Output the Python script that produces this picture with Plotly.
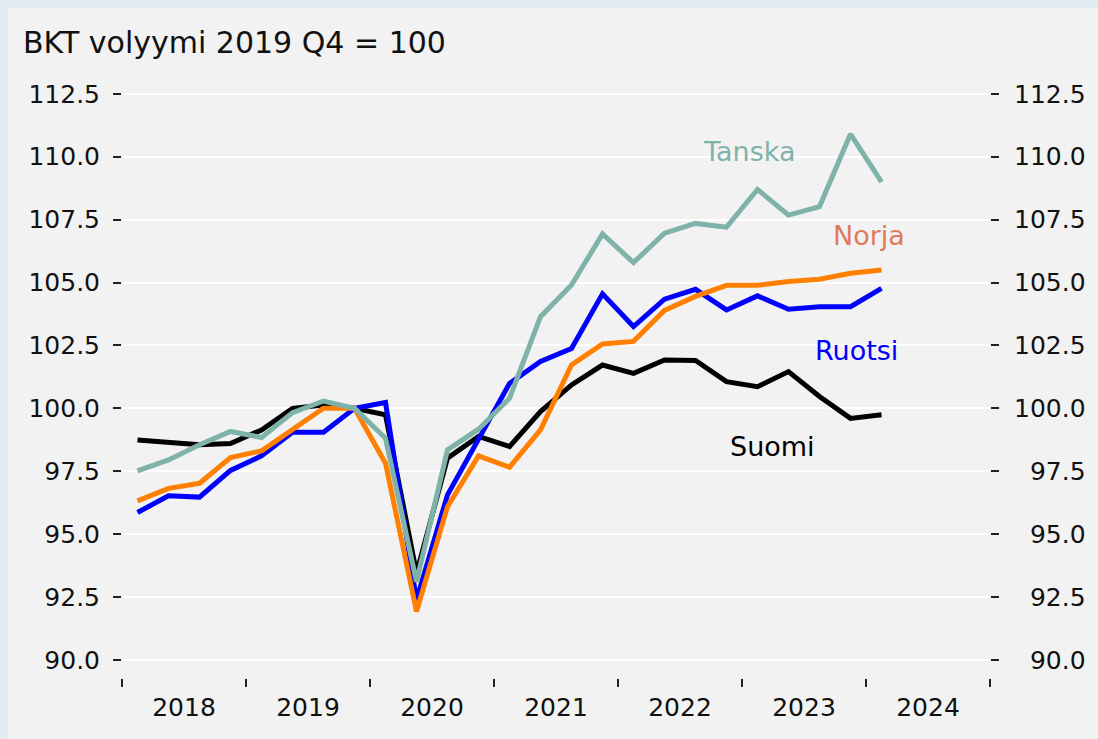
import plotly.graph_objects as go

# Quarters 2018Q1 .. 2024Q1
quarters = [f"{y}Q{q}" for y in range(2018, 2025) for q in range(1, 5)][:25]
suomi = [98.74, 98.65, 98.55, 98.6, 99.14, 100.0, 100.13, 100.0, 99.74, 93.45,
         98.02, 98.88, 98.48, 99.87, 100.93, 101.72, 101.39, 101.92, 101.9,
         101.06, 100.86, 101.46, 100.47, 99.6, 99.74]
tanska = [97.51, 97.95, 98.55, 99.08, 98.84, 99.83, 100.29, 100.0, 98.81, 93.11,
          98.35, 99.17, 100.4, 103.64, 104.9, 106.93, 105.79, 106.96, 107.35,
          107.2, 108.7, 107.68, 108.02, 110.9, 109.0]
norja = [96.32, 96.82, 97.02, 98.04, 98.31, 99.14, 100.0, 100.0, 97.82, 91.92,
         96.09, 98.11, 97.66, 99.14, 101.72, 102.56, 102.66, 103.89, 104.45,
         104.89, 104.89, 105.04, 105.13, 105.37, 105.5]
ruotsi = [95.86, 96.52, 96.47, 97.53, 98.11, 99.05, 99.05, 100.0, 100.23, 92.38,
          96.56, 98.74, 100.99, 101.86, 102.38, 104.55, 103.25, 104.34, 104.73,
          103.91, 104.47, 103.94, 104.04, 104.04, 104.77]

years = list(range(2018, 2025))
year_labels = [str(y) for y in years]
y_ticks = [90.0, 92.5, 95.0, 97.5, 100.0, 102.5, 105.0, 107.5, 110.0, 112.5]
left_labels = [f"{v:.1f}" for v in y_ticks]
right_labels = [("\u2007" if v < 100 else "") + f"{v:.1f}" for v in y_ticks]

title_text = "BKT volyymi 2019 Q4 = 100"

def qpos(label):
    y = int(label[:4]); q = int(label[-1])
    return y + (q - 0.5) / 4

x = [qpos(q) for q in quarters]

FONT = "DejaVu Sans"
TXT = "#111111"
series = [
    ("Suomi", suomi, "#000000"),
    ("Ruotsi", ruotsi, "#0000ff"),
    ("Norja", norja, "#ff8000"),
    ("Tanska", tanska, "#7fb3aa"),
]

fig = go.Figure()
for name, vals, col in series:
    fig.add_trace(go.Scatter(x=x, y=vals, mode="lines", name=name,
                             line=dict(color=col, width=5), hoverinfo="skip"))
# mirror axis reference trace (invisible)
fig.add_trace(go.Scatter(x=x, y=suomi, yaxis="y2", mode="lines",
                         line=dict(width=0), showlegend=False, hoverinfo="skip",
                         opacity=0))

yr = [89.28, 113.05]
fig.update_layout(
    width=1098, height=739,
    margin=dict(l=122, r=103, t=80, b=61),
    paper_bgcolor="#dfeaf1",
    plot_bgcolor="rgba(0,0,0,0)",
    showlegend=False,
    font=dict(family=FONT, color=TXT),
    xaxis=dict(range=[2018, 2025], tickmode="array",
               tickvals=[y + 0.5 for y in years], ticktext=year_labels,
               ticks="", showgrid=False, zeroline=False, showline=False,
               tickfont=dict(size=25, family=FONT, color=TXT),
               ticklabelstandoff=12,
               minor=dict(tickmode="array", tickvals=list(range(2018, 2026)),
                          ticks="outside", ticklen=8, tickwidth=1.5,
                          tickcolor="#222222", showgrid=False)),
    yaxis=dict(range=yr, tickmode="array", tickvals=y_ticks, ticktext=left_labels,
               ticks="outside", ticklen=8, tickwidth=1.5, tickcolor="#222222",
               showgrid=True, gridcolor="#ffffff", gridwidth=2,
               zeroline=False, showline=False, ticklabelstandoff=8,
               tickfont=dict(size=25, family=FONT, color=TXT)),
    yaxis2=dict(range=yr, overlaying="y", side="right", tickmode="array",
                tickvals=y_ticks, ticktext=right_labels,
                ticks="outside", ticklen=8, tickwidth=1.5, tickcolor="#222222",
                showgrid=False, zeroline=False, showline=False,
                ticklabelstandoff=10,
                tickfont=dict(size=25, family=FONT, color=TXT)),
    shapes=[dict(type="rect", xref="paper", yref="paper", layer="below",
                 x0=(7 - 122) / 873, x1=1.2, y0=-0.3, y1=(678 - 8) / 598,
                 fillcolor="#f2f2f2", line=dict(width=0))],
)

fig.add_annotation(text=title_text, xref="paper", yref="paper",
                   x=(20 - 122) / 873, y=(678 - 42) / 598,
                   xanchor="left", yanchor="middle", showarrow=False,
                   font=dict(size=30, color=TXT, family=FONT))

def px_to_x(px):
    return 2018 + (px - 122) / 124.7

def py_to_y(py):
    return 90 + (660 - py) / 25.16

labels = [("Tanska", 704, 152, "#7fb3aa"),
          ("Norja", 835, 236, "#e07a5a"),
          ("Ruotsi", 817, 351, "#0000ff"),
          ("Suomi", 731, 447, "#000000")]
for txt, lx, ly, col in labels:
    fig.add_annotation(text=txt, x=px_to_x(lx), y=py_to_y(ly), xref="x", yref="y",
                       xanchor="left", yanchor="middle", showarrow=False,
                       font=dict(size=27, color=col, family=FONT))

fig.write_html("out.html",
               config={"displayModeBar": False},
               post_script="document.body.style.margin='0';"
                           "document.body.style.background='#dfeaf1';"
                           "document.body.style.overflow='hidden';")
